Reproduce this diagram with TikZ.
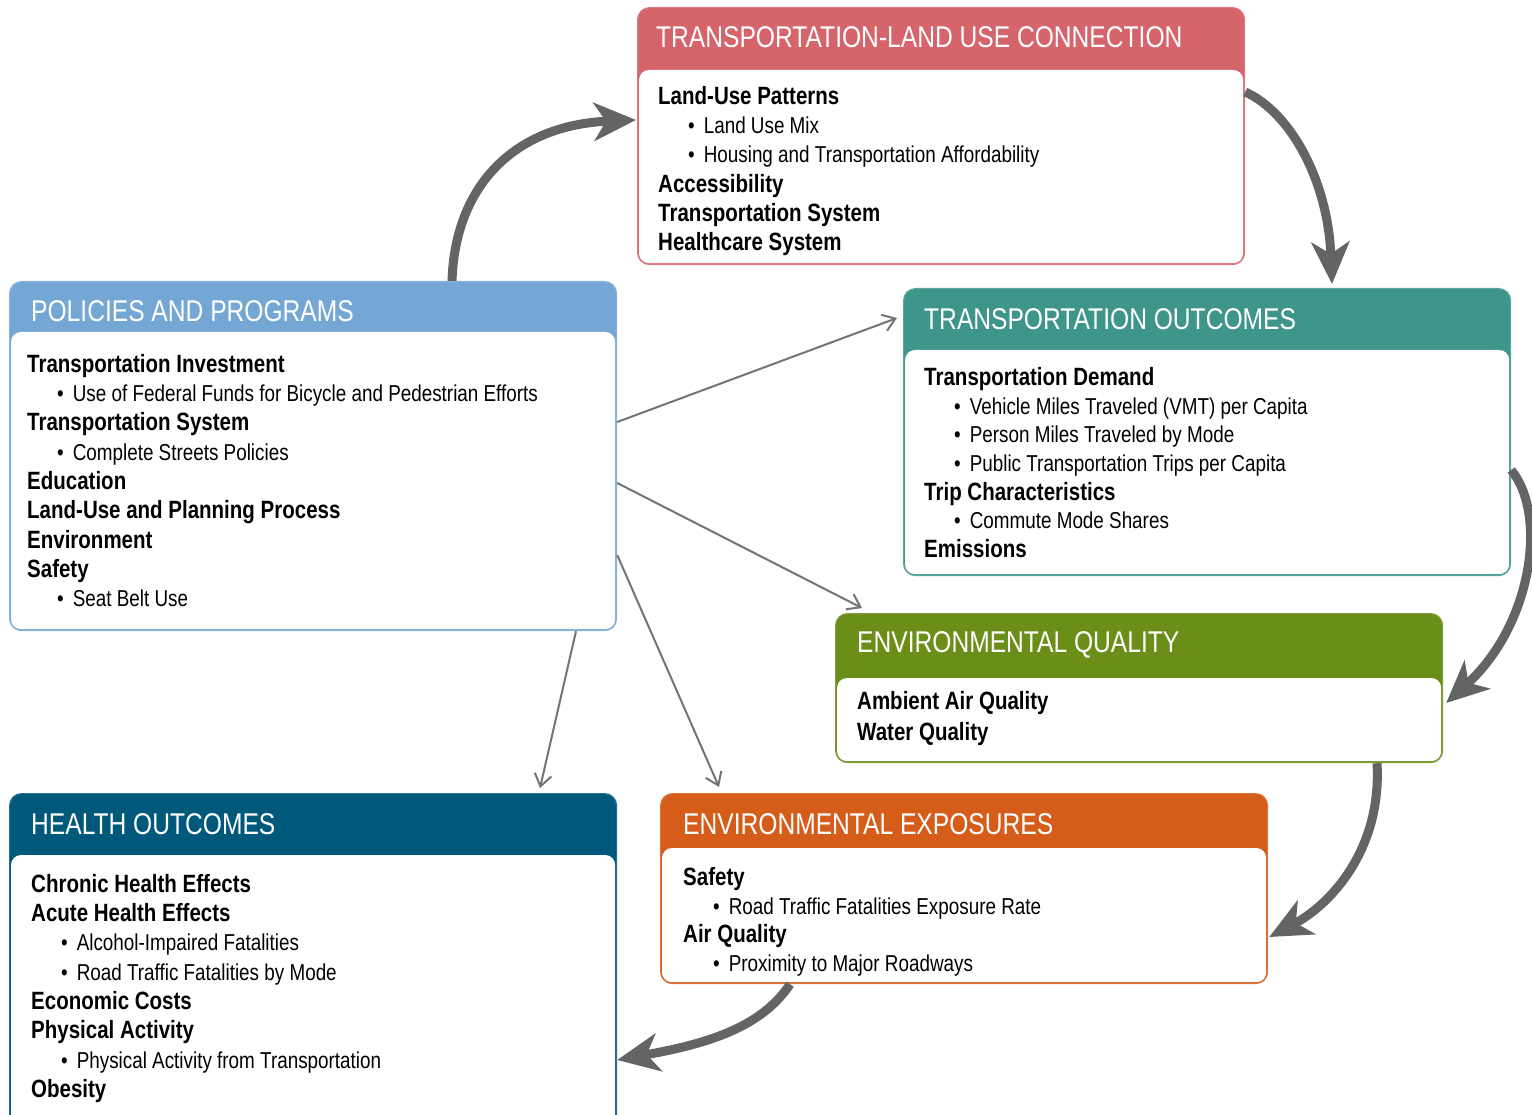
\documentclass[tikz,border=0pt]{standalone}
\usepackage{fontspec}
\setmainfont[FakeStretch=0.82]{Liberation Sans}
\usetikzlibrary{arrows.meta,calc}
\definecolor{landc}{HTML}{D6646B}
\definecolor{polc}{HTML}{74A7D3}
\definecolor{troc}{HTML}{3E958A}
\definecolor{eqc}{HTML}{6A8E17}
\definecolor{hoc}{HTML}{00597B}
\definecolor{eec}{HTML}{D65C1A}
\definecolor{arrowgray}{HTML}{636466}
\newcommand{\hd}[1]{{\bfseries\fontsize{25}{29.3}\selectfont #1}}
\newcommand{\bl}[1]{\hspace*{30pt}\textbullet\hspace{9pt}#1}

\begin{document}
\begin{tikzpicture}[x=1pt,y=-1pt,
  panel/.style={anchor=north west,rounded corners=12pt,inner sep=0pt,line width=1.2pt},
  inner/.style={white,rounded corners=10pt},
  ttl/.style={anchor=base west,inner sep=0pt,text=white,font=\fontsize{30}{36}\selectfont},
  body/.style={anchor=north west,inner sep=0pt,align=left,font=\fontsize{23}{29.3}\selectfont},
  bigarrow/.style={draw=arrowgray,line width=9pt,-{Stealth[length=42pt,width=38pt,inset=12pt]}},
  thinarrow/.style={draw=arrowgray!90,line width=2pt,-{Straight Barb[length=12pt,width=17pt]}}]
  \useasboundingbox (0,0) rectangle (1532,1115);
  \fill[white] (0,0) rectangle (1532,1115);

  % transportation-land use connection
  \node[panel,fill=landc,draw=landc!85,minimum width=607pt,minimum height=257pt] (land) at (637,7) {};
  \fill[inner] ($(land.south west)+(2,-2)$) rectangle ($(land.north east)+(-2,63)$);
  \node[ttl] at ($(land.north west)+(19,41)$) {TRANSPORTATION-LAND USE CONNECTION};
  \node[body] (landtxt) at ($(land.north west)+(21,79)$) {\hd{Land-Use Patterns}\\
    \bl{Land Use Mix}\\
    \bl{Housing and Transportation Affordability}\\
    \hd{Accessibility}\\
    \hd{Transportation System}\\
    \hd{Healthcare System}};

  % policies and programs
  \node[panel,fill=polc,draw=polc!85,minimum width=607pt,minimum height=349pt] (pol) at (9,281) {};
  \fill[inner] ($(pol.south west)+(2,-2)$) rectangle ($(pol.north east)+(-2,51)$);
  \node[ttl] at ($(pol.north west)+(22,41)$) {POLICIES AND PROGRAMS};
  \node[body] (poltxt) at ($(pol.north west)+(18,73)$) {\hd{Transportation Investment}\\
    \bl{Use of Federal Funds for Bicycle and Pedestrian Efforts}\\
    \hd{Transportation System}\\
    \bl{Complete Streets Policies}\\
    \hd{Education}\\
    \hd{Land-Use and Planning Process}\\
    \hd{Environment}\\
    \hd{Safety}\\
    \bl{Seat Belt Use}};

  % transportation outcomes
  \node[panel,fill=troc,draw=troc!85,minimum width=607pt,minimum height=287pt] (tro) at (903,288) {};
  \fill[inner] ($(tro.south west)+(2,-2)$) rectangle ($(tro.north east)+(-2,62)$);
  \node[ttl] at ($(tro.north west)+(21,42)$) {TRANSPORTATION OUTCOMES};
  \node[body,font=\fontsize{23}{28.7}\selectfont] (trotxt) at ($(tro.north west)+(21,79)$) {\hd{Transportation Demand}\\
    \bl{Vehicle Miles Traveled (VMT) per Capita}\\
    \bl{Person Miles Traveled by Mode}\\
    \bl{Public Transportation Trips per Capita}\\
    \hd{Trip Characteristics}\\
    \bl{Commute Mode Shares}\\
    \hd{Emissions}};

  % environmental quality
  \node[panel,fill=eqc,draw=eqc!85,minimum width=607pt,minimum height=149pt] (eq) at (835,613) {};
  \fill[inner] ($(eq.south west)+(2,-2)$) rectangle ($(eq.north east)+(-2,65)$);
  \node[ttl] at ($(eq.north west)+(22,39)$) {ENVIRONMENTAL QUALITY};
  \node[body,font=\fontsize{23}{31}\selectfont] (eqtxt) at ($(eq.north west)+(22,78)$) {\hd{Ambient Air Quality}\\
    \hd{Water Quality}};

  % health outcomes
  \node[panel,fill=hoc,draw=hoc!85,minimum width=607pt,minimum height=340pt] (ho) at (9,793) {};
  \fill[inner] ($(ho.south west)+(2,-2)$) rectangle ($(ho.north east)+(-2,62)$);
  \node[ttl] at ($(ho.north west)+(22,41)$) {HEALTH OUTCOMES};
  \node[body] (hotxt) at ($(ho.north west)+(22,81)$) {\hd{Chronic Health Effects}\\
    \hd{Acute Health Effects}\\
    \bl{Alcohol-Impaired Fatalities}\\
    \bl{Road Traffic Fatalities by Mode}\\
    \hd{Economic Costs}\\
    \hd{Physical Activity}\\
    \bl{Physical Activity from Transportation}\\
    \hd{Obesity}};

  % environmental exposures
  \node[panel,fill=eec,draw=eec!85,minimum width=607pt,minimum height=190pt] (ee) at (660,793) {};
  \fill[inner] ($(ee.south west)+(2,-2)$) rectangle ($(ee.north east)+(-2,55)$);
  \node[ttl] at ($(ee.north west)+(23,41)$) {ENVIRONMENTAL EXPOSURES};
  \node[body,font=\fontsize{23}{28.7}\selectfont] (eetxt) at ($(ee.north west)+(23,74)$) {\hd{Safety}\\
    \bl{Road Traffic Fatalities Exposure Rate}\\
    \hd{Air Quality}\\
    \bl{Proximity to Major Roadways}};

  % cycle of thick arrows
  \draw[bigarrow] ($(pol.north west)+(443,0)$) .. controls (455,185) and (515,125) .. ($(land.north west)+(-1,113)$);
  \draw[bigarrow] ($(land.north east)+(0,85)$) .. controls (1290,112) and (1328,180) .. ($(tro.north west)+(429,-4)$);
  \draw[bigarrow] ($(tro.north east)+(0,182)$) .. controls (1548,515) and (1532,625) .. ($(eq.north east)+(3,90)$);
  \draw[bigarrow] ($(eq.south west)+(542,0)$) .. controls (1382,850) and (1330,905) .. ($(ee.north east)+(1,144)$);
  \draw[bigarrow] ($(ee.south west)+(130,0)$) .. controls (760,1030) and (700,1045) .. ($(ho.north east)+(0,267)$);

  % thin arrows out of policies
  \draw[thinarrow] ($(pol.north east)+(0,141)$) -- ($(tro.north west)+(-6,30)$);
  \draw[thinarrow] ($(pol.north east)+(0,202)$) -- ($(eq.north west)+(27,-5)$);
  \draw[thinarrow] ($(pol.north east)+(0,274)$) -- ($(ee.north west)+(59,-6)$);
  \draw[thinarrow] ($(pol.south west)+(567,0)$) -- ($(ho.north west)+(531,-5)$);
\end{tikzpicture}
\end{document}
